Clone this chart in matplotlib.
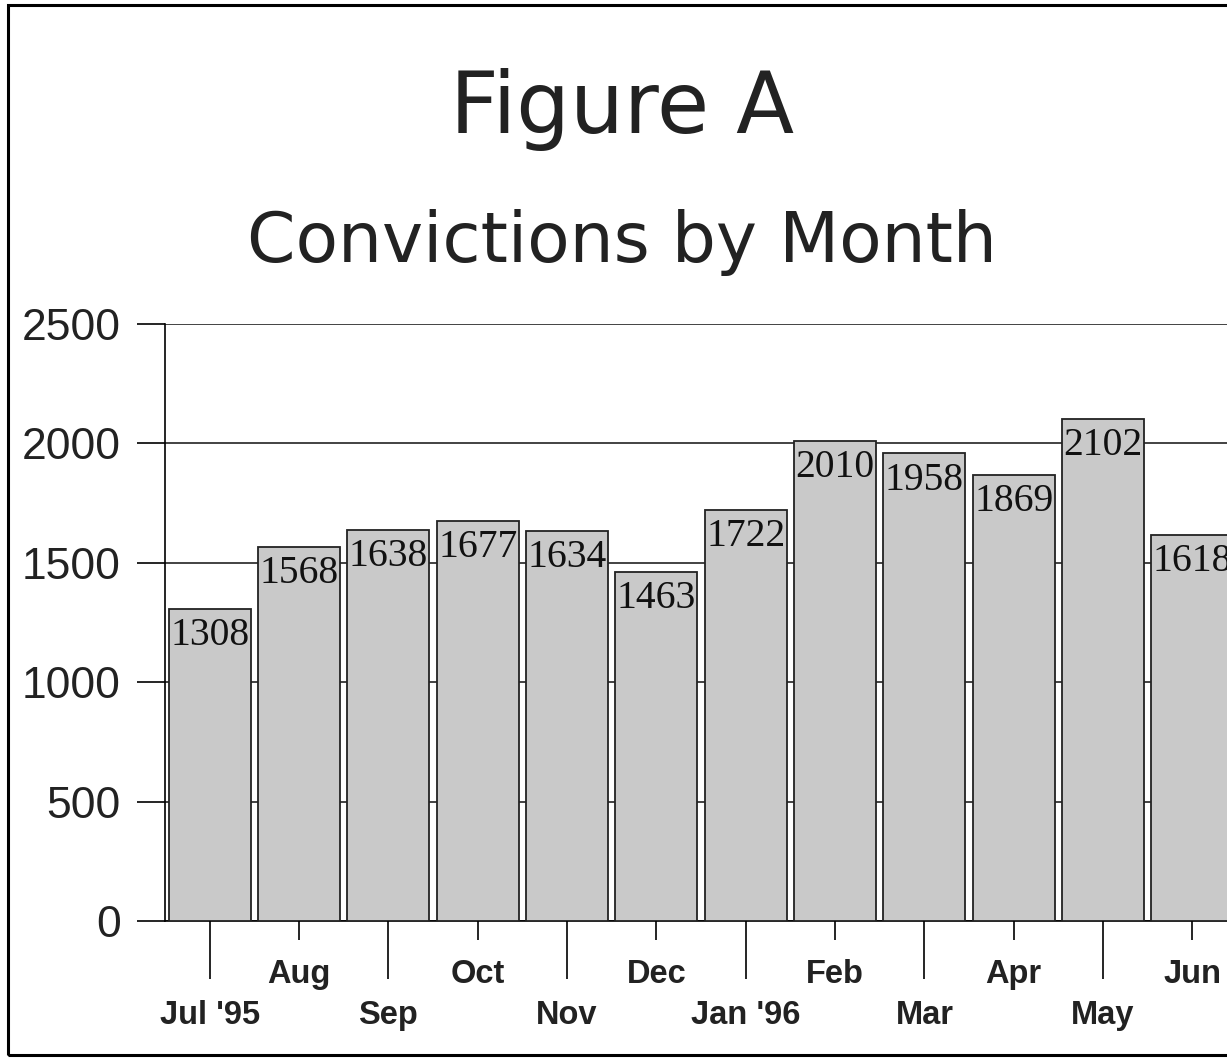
import matplotlib.pyplot as plt
from matplotlib.patches import Rectangle

months = ["Jul '95", "Aug", "Sep", "Oct", "Nov", "Dec",
          "Jan '96", "Feb", "Mar", "Apr", "May", "Jun"]
convictions = [1308, 1568, 1638, 1677, 1634, 1463,
               1722, 2010, 1958, 1869, 2102, 1618]
yticks = [0, 500, 1000, 1500, 2000, 2500]

fig = plt.figure(figsize=(12.27, 10.59), dpi=100)

# frame round the page (right side runs off the scan)
fig.patches.append(Rectangle((0.0065, 0.004), 1.1, 0.991, transform=fig.transFigure,
                             fill=False, edgecolor='black', linewidth=2.2))

fig.text(0.507, 0.897, "Figure A", ha='center', va='center',
         fontsize=61, family='DejaVu Sans', color='#222222')
fig.text(0.507, 0.771, "Convictions by Month", ha='center', va='center',
         fontsize=50, family='DejaVu Sans', color='#222222')

ax = fig.add_axes([0.1345, 0.1303, 0.8737, 0.5637])
x = range(len(months))
bars = ax.bar(x, convictions, width=0.92, color='#c9c9c9', edgecolor='#222222',
              linewidth=1.3, zorder=3)

for xi, v in zip(x, convictions):
    ax.annotate(str(v), (xi, v), xytext=(0, -6), textcoords='offset points',
                ha='center', va='top', fontsize=28.5, family='Liberation Serif',
                color='#111111', zorder=4)

ax.set_xlim(-0.5, len(months) - 0.5)
ax.set_ylim(0, 2500)
ax.set_yticks(yticks)
ax.set_yticklabels([str(t) for t in yticks], fontsize=32, family='Liberation Sans',
                   color='#222222')
ax.tick_params(axis='y', length=20, width=1.2, pad=12, direction='out')
ax.yaxis.grid(True, color='#222222', linewidth=1.2, zorder=0)
ax.set_axisbelow(True)

# staggered month labels: long ticks / lower row, short ticks / upper row
ax.set_xticks(list(x)[0::2])
ax.set_xticklabels(months[0::2], fontsize=23.5, fontweight='bold',
                   family='Liberation Sans', color='#222222')
ax.set_xticks(list(x)[1::2], minor=True)
ax.set_xticklabels(months[1::2], minor=True, fontsize=23.5, fontweight='bold',
                   family='Liberation Sans', color='#222222')
ax.tick_params(axis='x', which='major', length=42, width=1.2, pad=15)
ax.tick_params(axis='x', which='minor', length=14, width=1.2, pad=13)

for s in ['top', 'right']:
    ax.spines[s].set_visible(False)
ax.spines['left'].set_linewidth(1.2)
ax.spines['bottom'].set_linewidth(1.2)

fig.savefig('out.png', dpi=100)
